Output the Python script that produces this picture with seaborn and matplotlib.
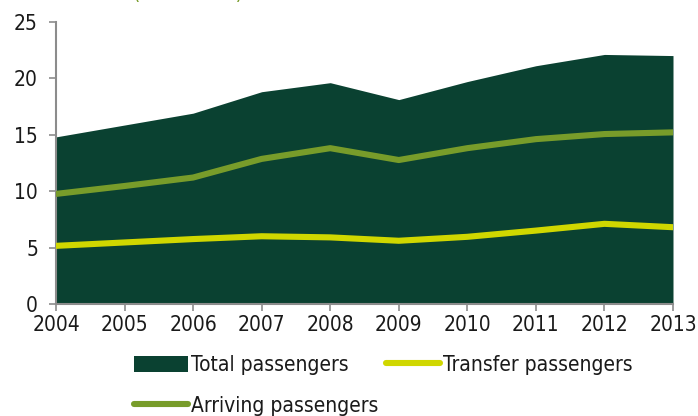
import matplotlib
matplotlib.use("Agg")
import matplotlib.pyplot as plt
from matplotlib.patches import Patch
from matplotlib.lines import Line2D
import seaborn as sns
import pandas as pd

years = [2004, 2005, 2006, 2007, 2008, 2009, 2010, 2011, 2012, 2013]
total_passengers = [14.8, 15.85, 16.9, 18.8, 19.6, 18.1, 19.7, 21.1, 22.1, 22.0]
arriving_passengers = [9.75, 10.45, 11.2, 12.85, 13.8, 12.75, 13.8, 14.6, 15.05, 15.2]
transfer_passengers = [5.15, 5.45, 5.75, 6.0, 5.9, 5.6, 5.95, 6.5, 7.1, 6.8]
y_ticks = [0, 5, 10, 15, 20, 25]

df = pd.DataFrame({
    "year": years,
    "Total passengers": total_passengers,
    "Arriving passengers": arriving_passengers,
    "Transfer passengers": transfer_passengers,
})

sns.set_theme(style="white")
plt.rcParams["font.family"] = ["DejaVu Sans"]
plt.rcParams["font.stretch"] = "condensed"

C_TOTAL = "#0a4131"
C_ARR = "#789c2a"
C_TRANS = "#d0d700"
C_AXIS = "#8c8c8c"
C_TEXT = "#1a1a1a"

fig = plt.figure(figsize=(6.98, 4.16), dpi=100)
ax = fig.add_axes([56 / 698, 1 - 304 / 416, (673 - 56) / 698, (304 - 21.7) / 416])

ax.fill_between(df["year"], 0, df["Total passengers"], color=C_TOTAL, linewidth=0, zorder=1)
sns.lineplot(data=df, x="year", y="Arriving passengers", ax=ax, color=C_ARR,
             linewidth=4.4, solid_capstyle="round", zorder=3)
sns.lineplot(data=df, x="year", y="Transfer passengers", ax=ax, color=C_TRANS,
             linewidth=4.4, solid_capstyle="round", zorder=3)

ax.set_xlim(years[0], years[-1])
ax.set_ylim(0, 25)
ax.set_xticks(years)
ax.set_yticks(y_ticks)
ax.set_xlabel("")
ax.set_ylabel("")
for side in ("top", "right"):
    ax.spines[side].set_visible(False)
for side in ("left", "bottom"):
    ax.spines[side].set_color(C_AXIS)
    ax.spines[side].set_linewidth(1.5)
ax.tick_params(axis="both", which="major", direction="out", length=5, width=1.2,
               color=C_AXIS, labelsize=15, labelcolor=C_TEXT)
ax.tick_params(axis="y", pad=8)
ax.tick_params(axis="x", pad=3)
ax.tick_params(left=True, bottom=True)

handles = [
    Patch(facecolor=C_TOTAL, edgecolor="none"),
    Line2D([], [], color=C_ARR, linewidth=4.4, solid_capstyle="round"),
    Line2D([], [], color=C_TRANS, linewidth=4.4, solid_capstyle="round"),
]
labels = ["Total passengers", "Arriving passengers", "Transfer passengers"]
leg = fig.legend(handles, labels, loc="upper left", bbox_to_anchor=(134 / 698, 1 - 355 / 416),
                 ncol=2, frameon=False, fontsize=15, handlelength=2.6, handleheight=0.8,
                 handletextpad=0.15, columnspacing=0.35, labelspacing=1.0, borderaxespad=0,
                 borderpad=0)
for t in leg.get_texts():
    t.set_color(C_TEXT)

# unit note above the plot, sitting at the top edge of the figure
fig.text(133 / 698, 1 + 0.5 / 416, "(in millions)", color=C_ARR, fontsize=15,
         ha="left", va="baseline")

fig.savefig("out.png", dpi=100)
